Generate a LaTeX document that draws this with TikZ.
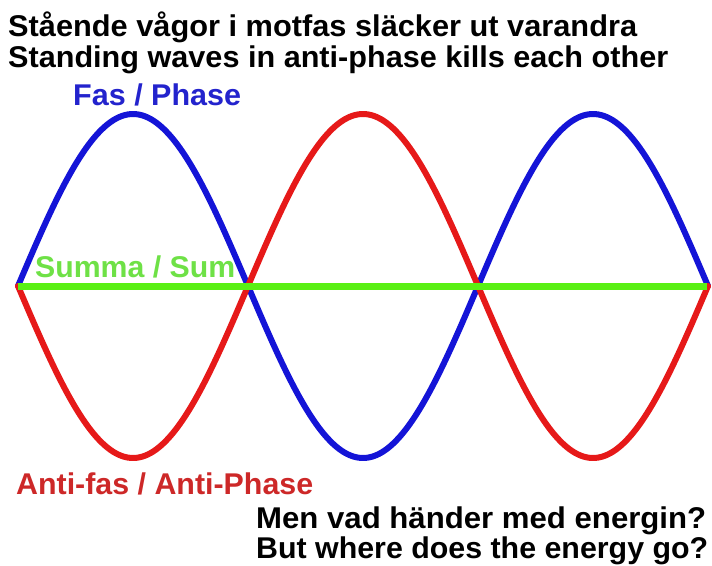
\documentclass[tikz,border=0pt]{standalone}
\usepackage{fontspec}
\setmainfont{Liberation Sans}
\usepackage{graphicx}
\newlength\fitlen
\newcommand\fitw[2]{\settowidth\fitlen{#2}\pgfmathsetmacro\fitfac{#1/\fitlen}\scalebox{\fitfac}[1]{#2}}
\definecolor{wblue}{RGB}{20,20,215}
\definecolor{wred}{RGB}{230,25,25}
\definecolor{wgreen}{RGB}{90,240,20}
\definecolor{tblue}{RGB}{35,35,205}
\definecolor{tred}{RGB}{205,40,40}
\definecolor{tgreen}{RGB}{110,225,70}
\tikzset{
  lbl/.style={anchor=base west, inner sep=0pt, font=\fontsize{30}{32}\selectfont\bfseries},
  wave/.style={line width=6pt, line cap=round, line join=round},
}
\begin{document}
\begin{tikzpicture}[x=1pt,y=-1pt]
\useasboundingbox (0,0) rectangle (712,565);
\fill[white] (0,0) rectangle (712,565);
% waves
\draw[wave, wblue] plot[domain=0:690, samples=240, smooth] ({\x+18}, {286 - 172*sin(\x/230*180)});
\draw[wave, wred] plot[domain=0:690, samples=240, smooth] ({\x+18}, {286 + 172*sin(\x/230*180)});
% sum
\coordinate (s0) at (18,286);
\coordinate (s1) at (707,286);
\draw[wgreen, line width=7pt] (s0) -- (s1);
% texts
\node[lbl] (t1) at (8,36) {\fitw{629}{Stående vågor i motfas släcker ut varandra}};
\node[lbl] (t2) at (8,67) {\fitw{660}{Standing waves in anti-phase kills each other}};
\node[lbl, text=tblue] (fas) at (73,105) {\fitw{168}{Fas / Phase}};
\node[lbl, text=tgreen] (sum) at (35,277) {\fitw{200}{Summa / Sum}};
\node[lbl, text=tred] (anti) at (16,494) {\fitw{297}{Anti-fas / Anti-Phase}};
\node[lbl] (q1) at (256,528) {\fitw{450}{Men vad händer med energin?}};
\node[lbl] (q2) at (256,558) {\fitw{452}{But where does the energy go?}};
\end{tikzpicture}
\end{document}
